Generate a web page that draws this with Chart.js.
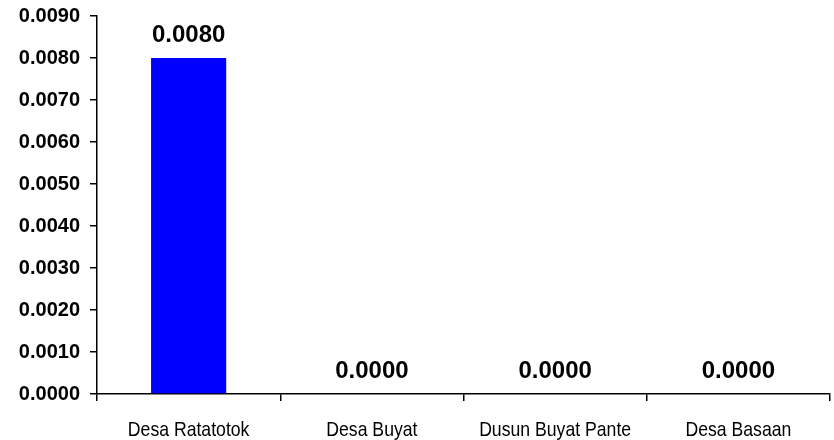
<!DOCTYPE html>
<html>
<head>
<meta charset="utf-8">
<script src="https://cdn.jsdelivr.net/npm/chart.js@4/dist/chart.umd.min.js"></script>
<style>
  html, body { margin: 0; padding: 0; background: #fff; }
  #wrap { width: 834px; height: 440px; }
</style>
</head>
<body>
<div id="wrap"><canvas id="chart"></canvas></div>
<script>
// data
var categories = ['Desa Ratatotok', 'Desa Buyat', 'Dusun Buyat Pante', 'Desa Basaan'];
var values = [0.0080, 0.0000, 0.0000, 0.0000];
var yMax = 0.009;
var yStep = 0.001;

// value labels above each bar
var barLabels = {
    id: 'barLabels',
    afterDatasetsDraw: function(chart) {
        var ctx = chart.ctx;
        var meta = chart.getDatasetMeta(0);
        ctx.save();
        ctx.font = 'bold 24px "Liberation Sans", Arial, sans-serif';
        ctx.fillStyle = '#000';
        ctx.textAlign = 'center';
        ctx.textBaseline = 'alphabetic';
        meta.data.forEach(function(bar, i) {
            ctx.fillText(values[i].toFixed(4), bar.x, bar.y - 16);
        });
        ctx.restore();
    }
};

// category labels, drawn narrow like Arial Narrow
var narrowLabels = {
    id: 'narrowLabels',
    afterDraw: function(chart) {
        var ctx = chart.ctx;
        var xs = chart.scales.x;
        ctx.save();
        ctx.font = '21px "Liberation Sans", Arial, sans-serif';
        ctx.fillStyle = '#000';
        ctx.textAlign = 'center';
        ctx.textBaseline = 'alphabetic';
        categories.forEach(function(c, i) {
            ctx.save();
            ctx.translate(xs.getPixelForTick(i), xs.top + 42);
            ctx.scale(0.84, 1);
            ctx.fillText(c, 0, 0);
            ctx.restore();
        });
        ctx.restore();
    }
};

var ctx = document.getElementById('chart').getContext('2d');
var chart = new Chart(ctx, {
    type: 'bar',
    data: {
        labels: categories,
        datasets: [{
            data: values,
            backgroundColor: '#0000ff',
            borderWidth: 0,
            barPercentage: 0.41,
            categoryPercentage: 1
        }]
    },
    options: {
        responsive: true,
        maintainAspectRatio: false,
        animation: false,
        layout: { padding: { top: 16, right: 4, left: 0, bottom: 0 } },
        plugins: {
            legend: { display: false },
            tooltip: { enabled: false }
        },
        scales: {
            x: {
                offset: true,
                grid: {
                    offset: true,
                    drawOnChartArea: false,
                    drawTicks: true,
                    tickLength: 7,
                    color: '#000',
                    lineWidth: 1.5
                },
                border: { display: true, color: '#000', width: 1.5 },
                ticks: { display: false },
                afterFit: function(scale) { scale.height = 46; }
            },
            y: {
                min: 0,
                max: yMax,
                grid: {
                    drawOnChartArea: false,
                    drawTicks: true,
                    tickLength: 7,
                    color: '#000',
                    lineWidth: 1.5
                },
                border: { display: true, color: '#000', width: 1.5 },
                ticks: {
                    stepSize: yStep,
                    color: '#000',
                    padding: 10,
                    font: { family: '"Liberation Sans", Arial, sans-serif', size: 20, weight: 'bold' },
                    callback: function(v) { return v.toFixed(4); }
                },
                afterFit: function(scale) {
                    scale.width = 97;
                    scale.paddingTop = 0;
                    scale.paddingBottom = 0;
                }
            }
        }
    },
    plugins: [barLabels, narrowLabels]
});
</script>
</body>
</html>
